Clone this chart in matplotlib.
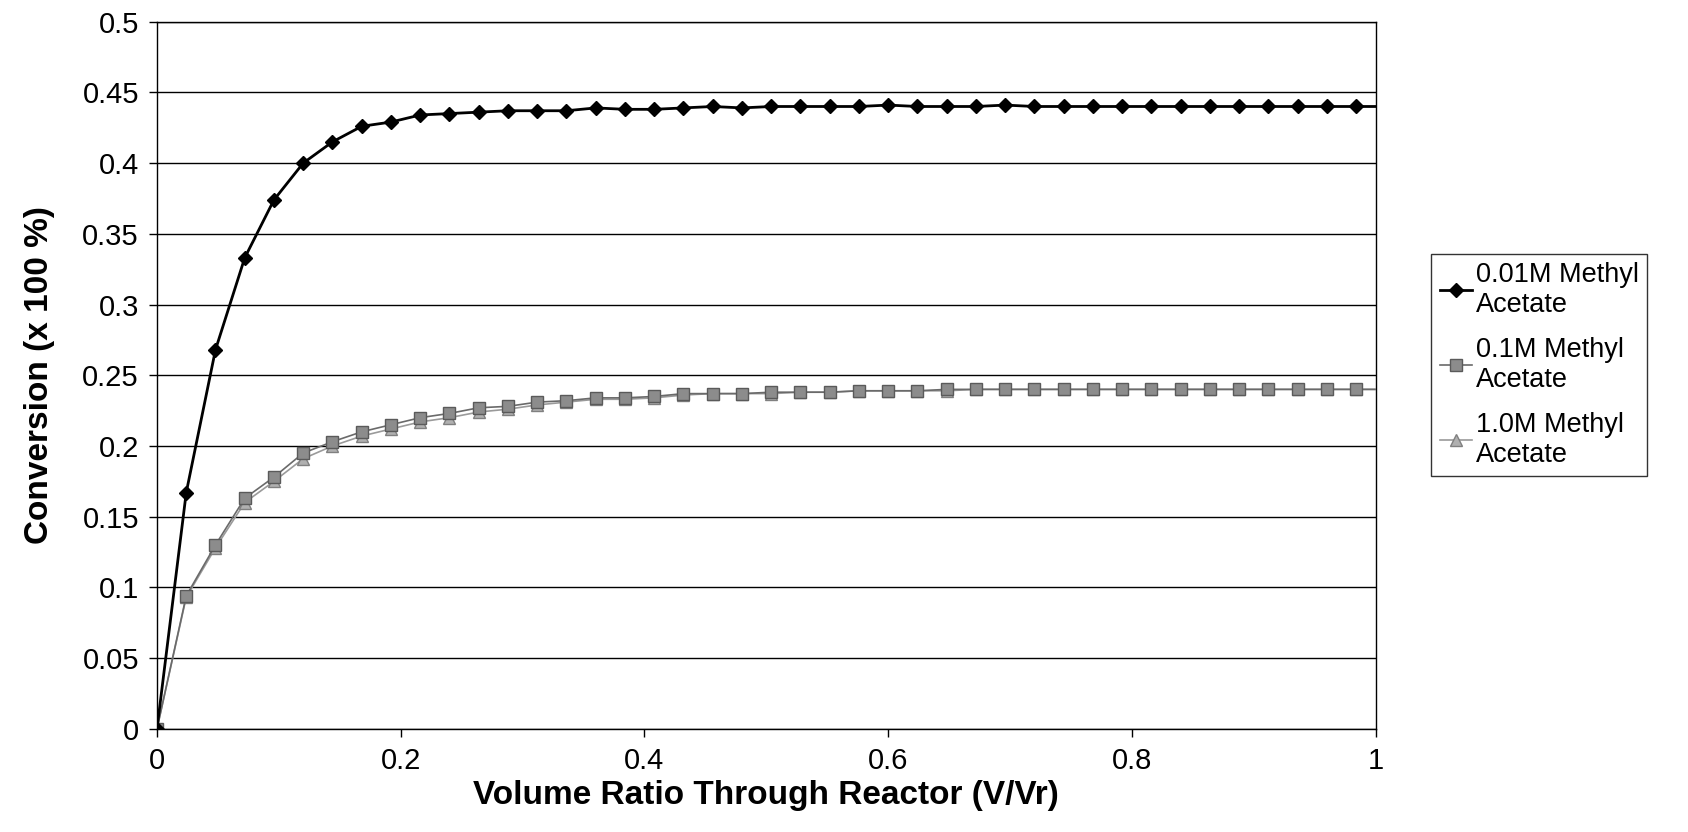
import numpy as np
import matplotlib.pyplot as plt

plt.rcParams['font.family'] = ['Liberation Sans', 'DejaVu Sans']

# volume ratio V/Vr at each sampled point (42 points, step 0.024) plus the line end at 1.0
x_vals = [0.000, 0.024, 0.048, 0.072, 0.096, 0.120, 0.144, 0.168, 0.192, 0.216,
          0.240, 0.264, 0.288, 0.312, 0.336, 0.360, 0.384, 0.408, 0.432, 0.456,
          0.480, 0.504, 0.528, 0.552, 0.576, 0.600, 0.624, 0.648, 0.672, 0.696,
          0.720, 0.744, 0.768, 0.792, 0.816, 0.840, 0.864, 0.888, 0.912, 0.936,
          0.960, 0.984, 1.000]

conv_001 = [0.000, 0.167, 0.268, 0.333, 0.374, 0.400, 0.415, 0.426, 0.429, 0.434,
            0.435, 0.436, 0.437, 0.437, 0.437, 0.439, 0.438, 0.438, 0.439, 0.440,
            0.439, 0.440, 0.440, 0.440, 0.440, 0.441, 0.440, 0.440, 0.440, 0.441,
            0.440, 0.440, 0.440, 0.440, 0.440, 0.440, 0.440, 0.440, 0.440, 0.440,
            0.440, 0.440, 0.440]

conv_01 = [0.000, 0.094, 0.130, 0.163, 0.178, 0.195, 0.203, 0.210, 0.215, 0.220,
           0.223, 0.227, 0.228, 0.231, 0.232, 0.234, 0.234, 0.235, 0.237, 0.237,
           0.237, 0.238, 0.238, 0.238, 0.239, 0.239, 0.239, 0.240, 0.240, 0.240,
           0.240, 0.240, 0.240, 0.240, 0.240, 0.240, 0.240, 0.240, 0.240, 0.240,
           0.240, 0.240, 0.240]

conv_10 = [0.000, 0.093, 0.128, 0.160, 0.175, 0.191, 0.200, 0.207, 0.212, 0.217,
           0.220, 0.224, 0.226, 0.229, 0.231, 0.233, 0.233, 0.234, 0.236, 0.237,
           0.237, 0.237, 0.238, 0.238, 0.239, 0.239, 0.239, 0.239, 0.240, 0.240,
           0.240, 0.240, 0.240, 0.240, 0.240, 0.240, 0.240, 0.240, 0.240, 0.240,
           0.240, 0.240, 0.240]

labels = ["0.01M Methyl\nAcetate", "0.1M Methyl\nAcetate", "1.0M Methyl\nAcetate"]

fig = plt.figure(figsize=(16.88, 8.32), dpi=100)
ax = fig.add_axes([0.093, 0.124, 0.722, 0.850])

marks = slice(0, len(x_vals) - 1)
ax.plot(x_vals, conv_10, color="#9a9a9a", lw=1.2, marker="^", ms=8,
        mfc="#b0b0b0", mec="#808080", markevery=marks, label=labels[2], zorder=3)
ax.plot(x_vals, conv_01, color="#6a6a6a", lw=1.2, marker="s", ms=8,
        mfc="#8c8c8c", mec="#5a5a5a", markevery=marks, label=labels[1], zorder=4)
ax.plot(x_vals, conv_001, color="black", lw=2, marker="D", ms=7.5,
        mfc="black", mec="black", markevery=marks, label=labels[0], zorder=5)

ax.set_xlim(0, 1)
ax.set_ylim(0, 0.5)
ax.set_xticks(np.arange(0, 1.01, 0.2))
ax.set_xticklabels(["0", "0.2", "0.4", "0.6", "0.8", "1"])
ax.set_yticks(np.arange(0, 0.501, 0.05))
ax.set_yticklabels(["0", "0.05", "0.1", "0.15", "0.2", "0.25", "0.3", "0.35",
                    "0.4", "0.45", "0.5"])
ax.tick_params(direction="out", length=6, width=1, labelsize=21, pad=7)
ax.yaxis.grid(True, color="black", lw=1)
ax.set_axisbelow(True)
for s in ax.spines.values():
    s.set_color("black")
    s.set_linewidth(1)

ax.set_xlabel("Volume Ratio Through Reactor (V/Vr)", fontsize=24, fontweight="bold", labelpad=4)
ax.set_ylabel("Conversion (x 100 %)", fontsize=24, fontweight="bold", labelpad=20)

handles, labs = ax.get_legend_handles_labels()
order = [2, 1, 0]
leg = fig.legend([handles[i] for i in order], [labs[i] for i in order],
                 loc="upper left", bbox_to_anchor=(0.848, 0.695), fontsize=19.5,
                 frameon=True, fancybox=False, edgecolor="black", handlelength=1.2,
                 handletextpad=0.15, labelspacing=0.7, borderpad=0.3,
                 borderaxespad=0)
leg.get_frame().set_linewidth(1)

fig.savefig("out.png", dpi=100)
